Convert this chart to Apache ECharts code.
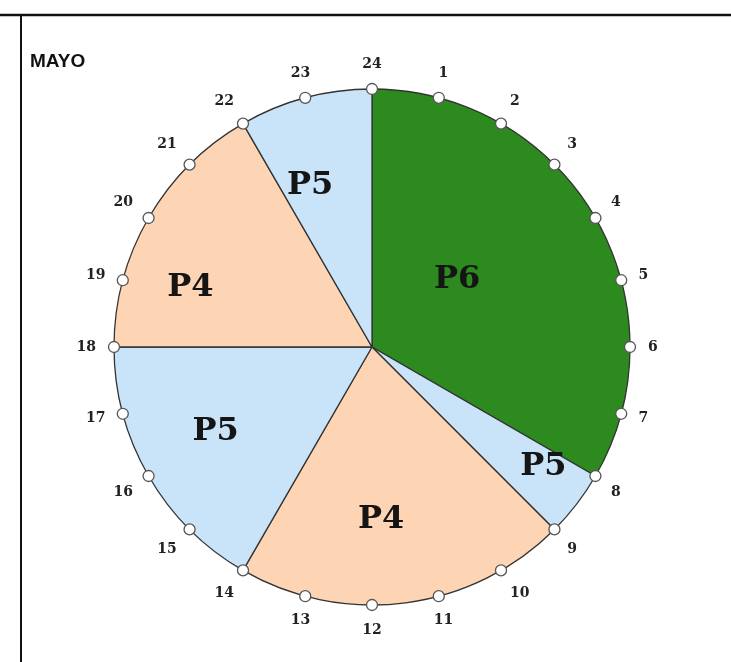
<!DOCTYPE html>
<html>
<head>
<meta charset="utf-8">
<title>MAYO</title>
<script src="https://cdn.jsdelivr.net/npm/echarts@6/dist/echarts.min.js"></script>
<style>
  html, body { margin: 0; padding: 0; background: #fff; }
  #main { width: 731px; height: 662px; }
</style>
</head>
<body>
<div id="main"></div>
<script>
// periodos del dia (horas), empezando a las 24h y en sentido horario
const periodNames = ['P6', 'P5', 'P4', 'P5', 'P4', 'P5']
const periodHours = [8, 1, 5, 4, 4, 2]
const periodColors = {
  P6: '#2d8a1e',
  P5: '#c9e4f8',
  P4: '#fdd4b4'
}
// marcas de hora en el borde
const hourMarks = [0, 1, 2, 3, 4, 5, 6, 7, 8, 9, 10, 11, 12, 13, 14, 15, 16, 17, 18, 19, 20, 21, 22, 23]

const center = [372, 347]
const radius = 258
// donde va cada etiqueta: [hora, fraccion del radio]
const labelSpots = [[3.45, 0.42], [8.33, 0.81], [11.8, 0.67], [16.1, 0.69], [19.2, 0.74], [22.6, 0.67]]

const chart = echarts.init(document.getElementById('main'))

chart.setOption({
  animation: false,
  title: {
    text: 'MAYO',
    left: 25,
    top: 47,
    textStyle: {
      fontFamily: 'Liberation Sans',
      fontWeight: 'bold',
      fontSize: 19,
      color: '#111'
    }
  },
  graphic: [
    { type: 'line', shape: { x1: 0, y1: 15, x2: 731, y2: 15 }, style: { stroke: '#111', lineWidth: 2.5 } },
    { type: 'line', shape: { x1: 21, y1: 15, x2: 21, y2: 662 }, style: { stroke: '#111', lineWidth: 2 } }
  ],
  polar: { center, radius },
  angleAxis: {
    type: 'value',
    min: 0,
    max: 24,
    interval: 1,
    startAngle: 90,
    clockwise: true,
    axisLine: { show: false },
    axisTick: { show: false },
    splitLine: { show: false },
    axisLabel: {
      margin: 18,
      fontFamily: 'DejaVu Serif',
      fontWeight: 'bold',
      fontSize: 14,
      color: '#222',
      formatter: (v) => (v === 0 ? '24' : v === 24 ? '' : String(v))
    },
    z: 5
  },
  radiusAxis: { min: 0, max: 1, show: false },
  series: [
    {
      type: 'pie',
      center,
      radius,
      startAngle: 90,
      clockwise: true,
      silent: true,
      z: 1,
      itemStyle: { borderColor: '#333', borderWidth: 1.3 },
      label: {
        position: 'inside',
        fontFamily: 'DejaVu Serif',
        fontWeight: 'bold',
        fontSize: 32,
        color: '#151515',
        formatter: '{b}'
      },
      labelLine: { show: false },
      labelLayout: (params) => {
        const [h, f] = labelSpots[params.dataIndex]
        const a = (h / 24) * Math.PI * 2
        const r = params.labelRect
        const tx = center[0] + Math.sin(a) * radius * f
        const ty = center[1] - Math.cos(a) * radius * f
        return { dx: tx - (r.x + r.width / 2), dy: ty - (r.y + r.height / 2) }
      },
      data: periodNames.map((name, i) => ({
        name,
        value: periodHours[i],
        itemStyle: { color: periodColors[name] }
      }))
    },
    {
      type: 'scatter',
      coordinateSystem: 'polar',
      silent: true,
      z: 10,
      symbol: 'circle',
      symbolSize: 11,
      itemStyle: { color: '#fff', borderColor: '#555', borderWidth: 1.3, opacity: 1 },
      data: hourMarks.map((h) => [1, h])
    }
  ]
})
</script>
</body>
</html>
